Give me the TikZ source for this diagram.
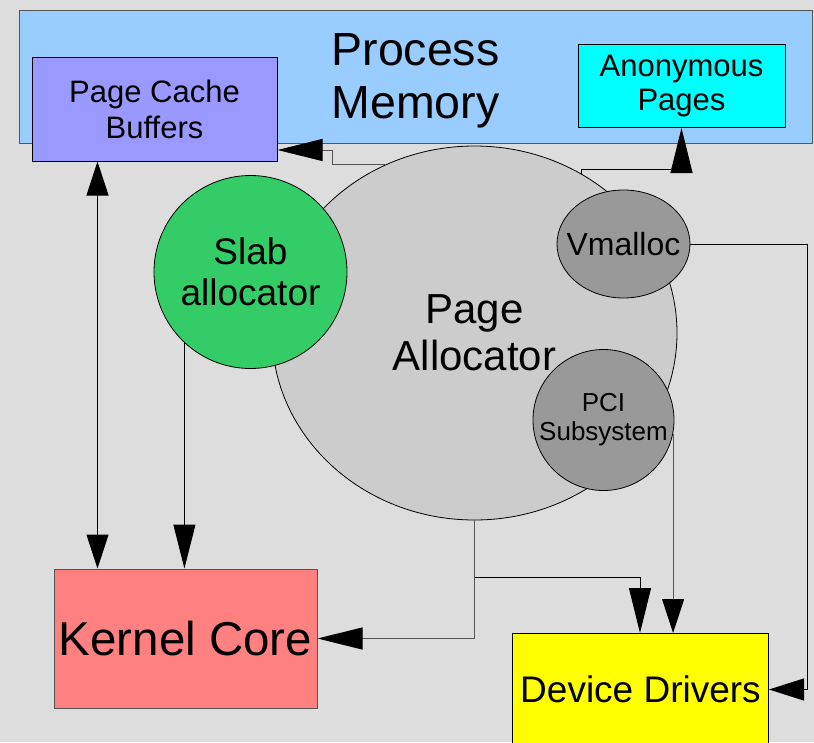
\documentclass[tikz,border=0pt]{standalone}
\usepackage{fontspec}
\setmainfont{Liberation Sans}
\usetikzlibrary{shapes.geometric, arrows.meta, calc}

\definecolor{backgray}{HTML}{DDDDDD}
\definecolor{memblue}{HTML}{99CCFF}
\definecolor{memedge}{HTML}{555555}
\definecolor{cachepurple}{HTML}{9999FF}
\definecolor{anoncyan}{HTML}{00FFFF}
\definecolor{slabgreen}{HTML}{33CC66}
\definecolor{allocgray}{HTML}{CCCCCC}
\definecolor{subgray}{HTML}{999999}
\definecolor{kernelred}{HTML}{FF8080}
\definecolor{driveryellow}{HTML}{FFFF00}
\definecolor{wiregray}{HTML}{555555}

\begin{document}
\begin{tikzpicture}[x=1pt, y=-1pt,
    block/.style={draw=black, line width=1pt, inner sep=0pt, align=center},
    blob/.style={draw=black, line width=0.8pt, inner sep=0pt, align=center},
    wire/.style={draw=black, line width=1pt},
    longtip/.style={-{Triangle[length=45pt, width=22pt, color=black]}},
    shorttip/.style={-{Triangle[length=34pt, width=22pt, color=black]}}]
    \useasboundingbox (0,0) rectangle (814,742);
    \fill[backgray] (0,0) rectangle (814,742);
    \clip (0,0) rectangle (814,742);
    \node[block, draw=memedge, fill=memblue, minimum width=793, minimum height=133, label={[font=\fontsize{46.5}{53}\selectfont, align=center, yshift=-4pt]center:Process\\Memory}] at (415.5,76.5) (mem) {};
    \node[block, fill=cachepurple, minimum width=245, minimum height=104, font=\fontsize{31}{36}\selectfont] at (154.5,109) (cache) {Page Cache\\Buffers};
    \node[block, fill=anoncyan, minimum width=207, minimum height=83, font=\fontsize{31}{34}\selectfont] at (681.5,86) (anon) {Anonymous\\Pages};
    \node[blob, ellipse, fill=allocgray, minimum width=405, minimum height=374, font=\fontsize{42}{47}\selectfont] at (474.5,333) (alloc) {Page\\Allocator};
    \node[blob, circle, fill=slabgreen, minimum size=193, font=\fontsize{37}{41}\selectfont] at (250.5,272) (slab) {Slab\\allocator};
    \node[blob, ellipse, fill=subgray, minimum width=133, minimum height=108, label={[font=\fontsize{32}{36}\selectfont]center:Vmalloc}] at (623.5,244) (vmalloc) {};
    \node[blob, circle, fill=subgray, minimum size=141, label={[font=\fontsize{26}{29}\selectfont, align=center]center:PCI\\Subsystem}] at (603.5,420) (pci) {};
    \node[block, draw=memedge, fill=kernelred, minimum width=263, minimum height=139, font=\fontsize{47.5}{52}\selectfont] at (185.5,638.5) (kernel) {Kernel Core};
    \node[block, fill=driveryellow, minimum width=256, minimum height=112, font=\fontsize{37}{42}\selectfont, anchor=north west] at (512,633) (drivers) {Device Drivers};

    % connectors
    \draw[wire, {Triangle[length=34pt, width=22pt]}-{Triangle[length=34pt, width=22pt]}] ($(cache.south west)+(66,0)$) -- ($(kernel.north west)+(44,0)$);
    \draw[wire, -{Triangle[length=44pt, width=22pt]}] (slab.227) -- (slab.227 |- kernel.north);
    \draw[wire, draw=wiregray, longtip] (alloc.118) -- ++(-53,0) |- ($(cache.east)+(0,41)$);
    \draw[wire, longtip] (alloc.56) -- ++(0,-4) -| (anon.south);
    \draw[wire, -{Triangle[length=35pt, width=22pt]}] (vmalloc.east) -- ++(117,0) |- (drivers.east);
    \draw[wire, draw=wiregray, shorttip] (pci.-11) -- (pci.-11 |- drivers.north);
    \draw[wire, draw=wiregray, longtip] (alloc.south) |- (kernel.east);
    \draw[wire, longtip] ($(alloc.south)+(0,57)$) -| ($(drivers.north west)+(128,0)$);
\end{tikzpicture}
\end{document}
